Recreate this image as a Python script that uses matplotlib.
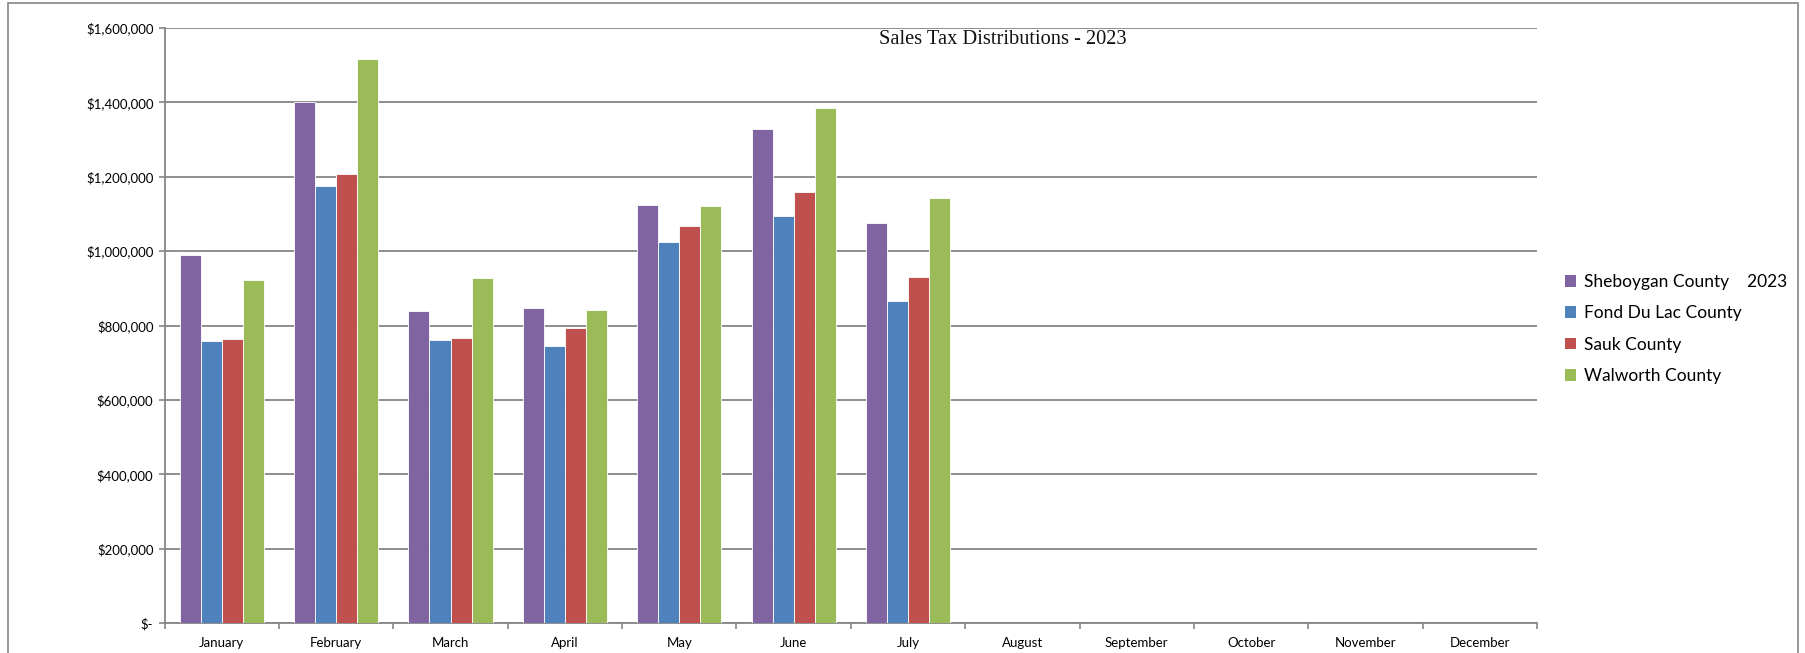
import numpy as np
import matplotlib
matplotlib.use("Agg")
import matplotlib.pyplot as plt
from matplotlib.patches import Patch, Rectangle
from matplotlib.ticker import FuncFormatter, MultipleLocator

# Data
months = ["January", "February", "March", "April", "May", "June",
          "July", "August", "September", "October", "November", "December"]
sheboygan = [990000, 1400000, 838000, 846000, 1125000, 1328000, 1076000]
fond_du_lac = [759000, 1174000, 761000, 746000, 1024000, 1095000, 867000]
sauk = [763000, 1207000, 766000, 792000, 1067000, 1159000, 931000]
walworth = [923000, 1517000, 929000, 842000, 1120000, 1386000, 1144000]

series_names = ["Sheboygan County    2023", "Fond Du Lac County",
                "Sauk County", "Walworth County"]
colors = ["#8064A2", "#4F81BD", "#C0504D", "#9BBB59"]
title = "Sales Tax Distributions - 2023"

W, H = 1805, 653
fig = plt.figure(figsize=(W / 100, H / 100), dpi=100)
ax = fig.add_axes([164.6 / W, 1 - 623 / H, (1537 - 164.6) / W, (623 - 28) / H])

grid_col = "#868686"
bar_w = 0.184
x = np.arange(len(months))
all_series = [sheboygan, fond_du_lac, sauk, walworth]
for i, (vals, c) in enumerate(zip(all_series, colors)):
    xs = np.arange(len(vals)) + (i - 1.5) * bar_w
    ax.bar(xs, vals, width=bar_w, color=c, edgecolor="white", linewidth=0.6, zorder=3)

ax.set_xlim(-0.5, len(months) - 0.5)
ax.set_ylim(0, 1600000)
ax.yaxis.set_major_locator(MultipleLocator(200000))


def money(v, pos):
    if v == 0:
        return "$-"
    return "${:,.0f}".format(v)


ax.yaxis.set_major_formatter(FuncFormatter(money))
ax.grid(axis="y", color=grid_col, linewidth=1.3, zorder=0)

ax.set_xticks(x)
ax.set_xticklabels(months)
ax.set_xticks(np.arange(-0.5, len(months)), minor=True)
ax.tick_params(axis="x", which="major", length=0, pad=10, labelsize=9.5)
ax.tick_params(axis="x", which="minor", length=4, color=grid_col, width=1.2)
ax.tick_params(axis="y", length=4, color=grid_col, width=1.2, labelsize=9.5, pad=4)
for lab in ax.get_xticklabels() + ax.get_yticklabels():
    lab.set_fontfamily("Lato")

for s in ["top", "right"]:
    ax.spines[s].set_visible(False)
for s in ["left", "bottom"]:
    ax.spines[s].set_color(grid_col)
    ax.spines[s].set_linewidth(1.3)

fig.text(1003 / W, 1 - 40 / H, title, ha="center", va="center",
         fontsize=14.7, family="Liberation Serif", color="#111111")

handles = [Patch(facecolor=c, edgecolor="none") for c in colors]
fig.legend(handles, series_names, loc="center left",
           bbox_to_anchor=(1558 / W, 1 - 329 / H), frameon=False,
           prop={"family": "Lato", "size": 12.5},
           handlelength=0.65, handleheight=0.65, handletextpad=0.45,
           labelspacing=0.88, borderaxespad=0)

# outer chart border
fig.patches.append(Rectangle((8 / W, -0.05), (1798 - 8) / W, 1.05 - 3 / H,
                             transform=fig.transFigure, fill=False,
                             edgecolor=grid_col, linewidth=1.2))

fig.savefig("out.png", dpi=100, facecolor="white")
